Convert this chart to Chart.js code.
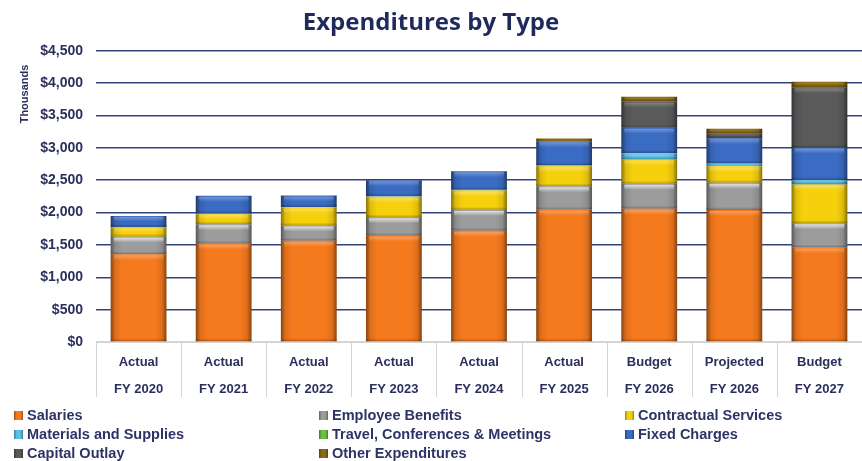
<!DOCTYPE html>
<html><head><meta charset="utf-8">
<script src="https://cdn.jsdelivr.net/npm/chart.js@4.4.1/dist/chart.umd.min.js"></script>
<style>
html,body{margin:0;padding:0;background:#fff;}
#wrap{position:relative;width:862px;height:461px;overflow:hidden;}
#c{position:absolute;left:0;top:0;}
#legend{position:absolute;left:0;top:0;width:862px;height:461px;pointer-events:none;font:bold 14.5px 'Liberation Sans',Arial,sans-serif;color:#2E3366;}
.li{position:absolute;display:flex;align-items:center;white-space:nowrap;height:18px;}
.sw{width:9px;height:9px;margin-right:4px;box-sizing:border-box;}
</style></head><body>
<div id="wrap"><canvas id="c" width="862" height="461"></canvas><div id="legend"></div></div>
<script>
// ---- data ----
const categories = [
  ['Actual','FY 2020'],['Actual','FY 2021'],['Actual','FY 2022'],['Actual','FY 2023'],
  ['Actual','FY 2024'],['Actual','FY 2025'],['Budget','FY 2026'],['Projected','FY 2026'],['Budget','FY 2027']
];
const seriesNames = ['Salaries','Employee Benefits','Contractual Services','Materials and Supplies',
  'Travel, Conferences & Meetings','Fixed Charges','Capital Outlay','Other Expenditures'];
const salaries    = [1356,1520,1565,1643,1720,2046,2060,2040,1460];
const benefits    = [ 272, 300, 235, 284, 322, 361, 385, 420, 375];
const contractual = [ 139, 155, 277, 316, 298, 309, 375, 255, 600];
const materials   = [   8,   8,   8,   8,   8,  12,  95,  40,  65];
const travel      = [   3,   3,   3,   3,   3,   3,   5,   5,   5];
const fixedCharges= [ 171, 273, 174, 246, 289, 371, 390, 390, 500];
const capital     = [   0,   0,   0,   0,   0,   0, 405,  70, 930];
const other       = [   0,   0,   0,   0,   0,  42,  75,  75,  85];
const yTicks = {min:0, max:4500, step:500};
const yAxisTitle = 'Thousands';
const chartTitle = 'Expenditures by Type';

const seriesValues = [salaries,benefits,contractual,materials,travel,fixedCharges,capital,other];
const seriesColors = ['#F57A1E','#9C9C9C','#F6D00C','#5BC0E6','#6DBE45','#3B6CC4','#5A5A5A','#8C6A14'];
const highlight    = [0.35,0.85,0.4,0.4,0.4,0.35,0.3,0.3];

function shade(hex,f){
  const n=parseInt(hex.slice(1),16);
  let r=(n>>16)&255,g=(n>>8)&255,b=n&255;
  if(f<0){r*=1+f;g*=1+f;b*=1+f;} else {r+=(255-r)*f;g+=(255-g)*f;b+=(255-b)*f;}
  return 'rgb('+Math.round(r)+','+Math.round(g)+','+Math.round(b)+')';
}

const FONT = "'Liberation Sans', Arial, sans-serif";
const TXT = '#2B2F5C';

const gloss = {
  id:'gloss',
  beforeDatasetsDraw(chart){
    const ctx=chart.ctx;
    chart.data.datasets.forEach((ds,di)=>{
      const meta=chart.getDatasetMeta(di);
      meta.data.forEach(el=>{
        const p=el.getProps(['x','width'],true);
        const g=ctx.createLinearGradient(p.x-p.width/2,0,p.x+p.width/2,0);
        const c=seriesColors[di];
        g.addColorStop(0,shade(c,-0.45));
        g.addColorStop(0.08,shade(c,-0.1));
        g.addColorStop(0.2,c);
        g.addColorStop(0.8,c);
        g.addColorStop(0.92,shade(c,-0.1));
        g.addColorStop(1,shade(c,-0.45));
        el.options=Object.assign({},el.options,{backgroundColor:g});
      });
    });
  },
  afterDatasetsDraw(chart){
    const ctx=chart.ctx;
    ctx.save();
    chart.data.datasets.forEach((ds,di)=>{
      const meta=chart.getDatasetMeta(di);
      meta.data.forEach(el=>{
        const p=el.getProps(['x','y','base','width'],true);
        const top=Math.min(p.y,p.base), h=Math.abs(p.base-p.y);
        if(h<3) return;
        const hh=Math.min(6,h/2);
        const g=ctx.createLinearGradient(0,top,0,top+hh);
        g.addColorStop(0,'rgba(255,255,255,'+highlight[di]+')');
        g.addColorStop(1,'rgba(255,255,255,0)');
        ctx.fillStyle=g;
        ctx.fillRect(p.x-p.width/2+3,top+1,p.width-6,hh);
        const g2=ctx.createLinearGradient(0,top+h-3,0,top+h);
        g2.addColorStop(0,'rgba(0,0,0,0)');
        g2.addColorStop(1,'rgba(0,0,0,0.25)');
        ctx.fillStyle=g2;
        ctx.fillRect(p.x-p.width/2,top+h-3,p.width,3);
      });
    });
    ctx.restore();
  },
  afterDraw(chart){
    const {ctx,chartArea,scales:{x}}=chart;
    ctx.save();
    ctx.strokeStyle='#D4D4D4'; ctx.lineWidth=1;
    const n=categories.length;
    const w=x.width/n;
    for(let i=0;i<=n;i++){
      const px=Math.round(x.getPixelForValue(0)-w/2+i*w)+0.5;
      ctx.beginPath(); ctx.moveTo(px,chartArea.bottom); ctx.lineTo(px,chartArea.bottom+55); ctx.stroke();
    }
    ctx.translate(25,94); ctx.rotate(-Math.PI/2);
    ctx.font="bold 11px "+FONT;
    ctx.fillStyle=TXT; ctx.textAlign='center'; ctx.textBaseline='middle';
    ctx.fillText(yAxisTitle,0,0);
    ctx.restore();
  }
};

const datasets = seriesNames.map((name,i)=>({
  label:name, data:seriesValues[i], backgroundColor:seriesColors[i],
  borderWidth:0, barPercentage:0.656, categoryPercentage:1.0
}));

new Chart(document.getElementById('c'),{
  type:'bar',
  data:{labels:categories, datasets},
  options:{
    responsive:false, animation:false, devicePixelRatio:1,
    layout:{padding:{left:0,right:0,top:0,bottom:61}},
    plugins:{
      legend:{display:false}, tooltip:{enabled:false},
      title:{display:true,text:chartTitle,color:'#1F2A5C',
        font:{family:"'Open Sans', sans-serif",size:24,weight:'bold',lineHeight:1.2},
        padding:{top:9,bottom:13}}
    },
    scales:{
      x:{stacked:true,
        grid:{display:false},
        border:{display:true,color:'#D4D4D4'},
        ticks:{color:TXT,font:{family:FONT,size:13,weight:'bold',lineHeight:2.05},padding:-1,maxRotation:0,autoSkip:false},
        afterFit(s){s.height=58;}
      },
      y:{stacked:true,min:yTicks.min,max:yTicks.max,
        border:{display:false},
        grid:{drawTicks:false,lineWidth:1.5,color:c=>c.tick&&c.tick.value===0?'#D4D4D4':'#34427A'},
        ticks:{stepSize:yTicks.step,padding:13,color:TXT,font:{family:FONT,size:14,weight:'bold'},
          callback:v=>'$'+v.toLocaleString('en-US')},
        afterFit(s){s.width=96;}
      }
    }
  },
  plugins:[gloss]
});

// HTML legend (3 columns, row-major)
const lg=document.getElementById('legend');
const colX=[14,319,625], rowY=[415,434,453];
seriesNames.forEach((name,i)=>{
  const d=document.createElement('div'); d.className='li';
  d.style.left=colX[i%3]+'px'; d.style.top=(rowY[Math.floor(i/3)]-9)+'px';
  const s=document.createElement('span'); s.className='sw';
  s.style.background='linear-gradient(90deg,'+shade(seriesColors[i],-0.35)+','+seriesColors[i]+' 30%,'+seriesColors[i]+' 70%,'+shade(seriesColors[i],-0.35)+')';
  d.appendChild(s); d.appendChild(document.createTextNode(name)); lg.appendChild(d);
});
</script>
</body></html>
